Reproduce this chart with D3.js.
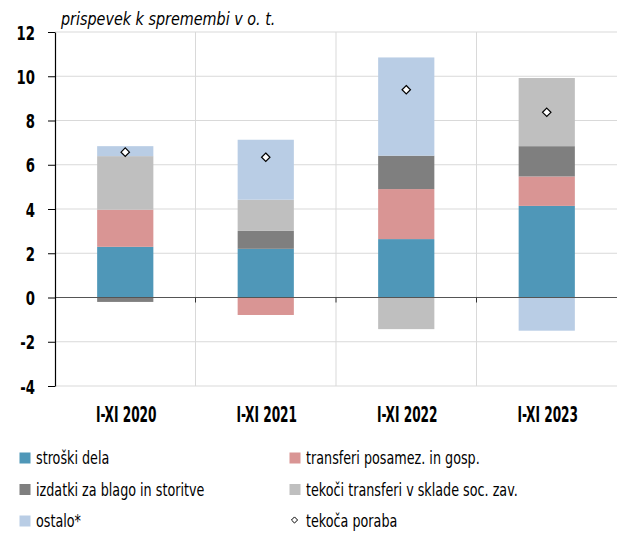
<!DOCTYPE html>
<html>
<head>
<meta charset="utf-8">
<script src="https://cdn.jsdelivr.net/npm/d3@7"></script>
<style>
  body { margin: 0; background: #fff; }
  svg text { font-family: "DejaVu Sans", sans-serif; }
</style>
</head>
<body>
<svg id="chart"></svg>
<script>
// data
const categories = ["I-XI 2020", "I-XI 2021", "I-XI 2022", "I-XI 2023"];
const seriesNames = [
  "stroški dela",
  "transferi posamez. in gosp.",
  "izdatki za blago in storitve",
  "tekoči transferi v sklade soc. zav.",
  "ostalo*",
];
const strosDela = [2.29, 2.2, 2.64, 4.14];
const transferi = [1.68, -0.79, 2.26, 1.33];
const izdatki = [-0.2, 0.81, 1.51, 1.37];
const tekociTransferi = [2.42, 1.41, -1.43, 3.08];
const ostalo = [0.45, 2.71, 4.44, -1.5];
const tekocaPoraba = [6.57, 6.34, 9.39, 8.37];
const yTicks = [-4, -2, 0, 2, 4, 6, 8, 10, 12];

const colors = ["#4f97b8", "#d99594", "#7f7f7f", "#bfbfbf", "#b9cde5"];

const width = 617;
const height = 533;
const margin = { top: 32, right: 0, bottom: 147, left: 55 };
const innerW = width - margin.left - margin.right;
const innerH = height - margin.top - margin.bottom;

// no condensed font installed, so squeeze text horizontally
const squeeze = (sel, x, y, s) =>
  sel.attr("x", 0).attr("y", 0).attr("transform", `translate(${x},${y}) scale(${s},1)`);

const svg = d3.select("#chart").attr("width", width).attr("height", height);
const g = svg.append("g").attr("transform", `translate(${margin.left},${margin.top})`);

const x = d3.scaleBand().domain(categories).range([0, innerW]).paddingInner(0).paddingOuter(0);
const y = d3.scaleLinear().domain([-4, 12]).range([innerH, 0]);
const barW = x.bandwidth() * 0.4;

// grid
g.append("g")
  .selectAll("line")
  .data(yTicks)
  .join("line")
  .attr("x1", 0)
  .attr("x2", innerW)
  .attr("y1", (d) => y(d))
  .attr("y2", (d) => y(d))
  .attr("stroke", "#d9d9d9")
  .attr("stroke-width", 1);

g.append("g")
  .selectAll("line")
  .data(categories.slice(1))
  .join("line")
  .attr("x1", (d) => x(d))
  .attr("x2", (d) => x(d))
  .attr("y1", 0)
  .attr("y2", innerH)
  .attr("stroke", "#d9d9d9");

// stack with positive / negative split
const seriesVals = [strosDela, transferi, izdatki, tekociTransferi, ostalo];
const rects = [];
categories.forEach((c, i) => {
  let pos = 0;
  let neg = 0;
  seriesVals.forEach((vals, s) => {
    const v = vals[i];
    let y0, y1;
    if (v >= 0) {
      y0 = pos;
      y1 = pos + v;
      pos = y1;
    } else {
      y0 = neg + v;
      y1 = neg;
      neg = y0;
    }
    rects.push({ cat: c, s, y0, y1 });
  });
});

g.append("g")
  .selectAll("rect")
  .data(rects)
  .join("rect")
  .attr("x", (d) => x(d.cat) + (x.bandwidth() - barW) / 2)
  .attr("width", barW)
  .attr("y", (d) => y(d.y1))
  .attr("height", (d) => y(d.y0) - y(d.y1))
  .attr("fill", (d) => colors[d.s]);

// zero line + small category ticks
g.append("line")
  .attr("x1", 0)
  .attr("x2", innerW)
  .attr("y1", y(0))
  .attr("y2", y(0))
  .attr("stroke", "#555")
  .attr("stroke-width", 1);

g.append("g")
  .selectAll("line")
  .data(categories.slice(1))
  .join("line")
  .attr("x1", (d) => x(d))
  .attr("x2", (d) => x(d))
  .attr("y1", y(0))
  .attr("y2", y(0) + 5)
  .attr("stroke", "#333");

// diamonds
const diamond = d3.symbol().type(d3.symbolDiamond2).size(45);
g.append("g")
  .selectAll("path")
  .data(categories)
  .join("path")
  .attr("d", diamond)
  .attr("transform", (d, i) => `translate(${x(d) + x.bandwidth() / 2},${y(tekocaPoraba[i])})`)
  .attr("fill", "#fff")
  .attr("stroke", "#000")
  .attr("stroke-width", 1.2);

// y axis
const yAxis = g.append("g")
  .call(d3.axisLeft(y).tickValues(yTicks).tickFormat((d) => String(d)).tickSize(7).tickSizeOuter(0));
yAxis.select(".domain").attr("stroke", "#000").attr("stroke-width", 1.2);
yAxis.selectAll(".tick line").attr("stroke", "#000");
yAxis.selectAll("text")
  .attr("fill", "#000")
  .attr("text-anchor", "end")
  .style("font-size", "19.5px")
  .style("font-weight", "bold")
  .call(squeeze, -20, 0, 0.68)
  .attr("dy", "0.36em");

// x labels
g.append("g")
  .selectAll("text")
  .data(categories)
  .join("text")
  .attr("text-anchor", "middle")
  .style("font-size", "21px")
  .style("font-weight", "bold")
  .attr("fill", "#000")
  .text((d) => d)
  .each(function (d) {
    d3.select(this).call(squeeze, x(d) + x.bandwidth() / 2 + 1, innerH + 36, 0.58);
  });

// title
svg.append("text")
  .style("font-size", "17.5px")
  .style("font-style", "italic")
  .attr("fill", "#000")
  .text("prispevek k spremembi v o. t.")
  .call(squeeze, 61, 25, 0.82);

// legend
const legendItems = [
  { name: seriesNames[0], type: "rect", color: colors[0] },
  { name: seriesNames[1], type: "rect", color: colors[1] },
  { name: seriesNames[2], type: "rect", color: colors[2] },
  { name: seriesNames[3], type: "rect", color: colors[3] },
  { name: seriesNames[4], type: "rect", color: colors[4] },
  { name: "tekoča poraba", type: "diamond" },
];
const legend = svg.append("g");
const li = legend.selectAll("g")
  .data(legendItems)
  .join("g")
  .attr("transform", (d, i) => `translate(${i % 2 === 0 ? 19.5 : 289.5},${464 + Math.floor(i / 2) * 31.5})`);

li.filter((d) => d.type === "rect")
  .append("rect")
  .attr("x", 0)
  .attr("y", -11.5)
  .attr("width", 11)
  .attr("height", 11)
  .attr("fill", (d) => d.color);

li.filter((d) => d.type === "diamond")
  .append("path")
  .attr("d", d3.symbol().type(d3.symbolDiamond2).size(24))
  .attr("transform", "translate(5,-7)")
  .attr("fill", "#fff")
  .attr("stroke", "#000")
  .attr("stroke-width", 1);

li.append("text")
  .style("font-size", "18.5px")
  .attr("fill", "#000")
  .text((d) => d.name)
  .call(squeeze, 16.5, 0, 0.69);
</script>
</body>
</html>
